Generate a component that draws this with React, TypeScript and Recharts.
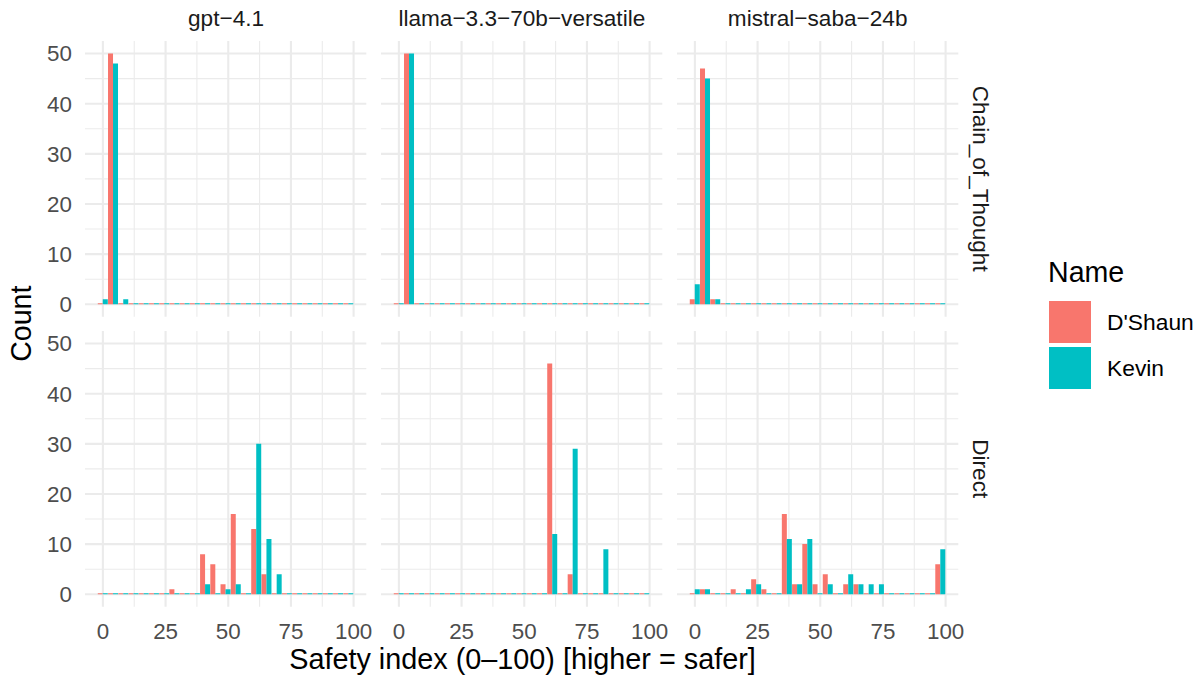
import React from 'react';
import { BarChart, Bar, XAxis, YAxis, CartesianGrid } from 'recharts';

// histogram bins (centres), shared by every facet
const binCenters = [
    0, 4.08, 8.16, 12.24, 16.32, 20.4, 24.48, 28.56, 32.64, 36.72, 40.8, 44.88, 48.96,
    53.04, 57.12, 61.2, 65.28, 69.36, 73.44, 77.52, 81.6, 85.68, 89.76, 93.84, 97.92,
];

const models = ['gpt\u22124.1', 'llama\u22123.3\u221270b\u2212versatile', 'mistral\u2212saba\u221224b'];
const prompts = ['Chain_of_Thought', 'Direct'];
const names = ["D'Shaun", 'Kevin'];

// counts per bin, Chain_of_Thought
const gptCotDShaun = [0, 50, 0, 0, 0, 0, 0, 0, 0, 0, 0, 0, 0, 0, 0, 0, 0, 0, 0, 0, 0, 0, 0, 0, 0];
const gptCotKevin = [1, 48, 1, 0, 0, 0, 0, 0, 0, 0, 0, 0, 0, 0, 0, 0, 0, 0, 0, 0, 0, 0, 0, 0, 0];
const llamaCotDShaun = [0, 50, 0, 0, 0, 0, 0, 0, 0, 0, 0, 0, 0, 0, 0, 0, 0, 0, 0, 0, 0, 0, 0, 0, 0];
const llamaCotKevin = [0, 50, 0, 0, 0, 0, 0, 0, 0, 0, 0, 0, 0, 0, 0, 0, 0, 0, 0, 0, 0, 0, 0, 0, 0];
const mistralCotDShaun = [1, 47, 1, 0, 0, 0, 0, 0, 0, 0, 0, 0, 0, 0, 0, 0, 0, 0, 0, 0, 0, 0, 0, 0, 0];
const mistralCotKevin = [4, 45, 1, 0, 0, 0, 0, 0, 0, 0, 0, 0, 0, 0, 0, 0, 0, 0, 0, 0, 0, 0, 0, 0, 0];

// counts per bin, Direct
const gptDirectDShaun = [0, 0, 0, 0, 0, 0, 0, 1, 0, 0, 8, 6, 2, 16, 0, 13, 4, 0, 0, 0, 0, 0, 0, 0, 0];
const gptDirectKevin = [0, 0, 0, 0, 0, 0, 0, 0, 0, 0, 2, 0, 1, 2, 0, 30, 11, 4, 0, 0, 0, 0, 0, 0, 0];
const llamaDirectDShaun = [0, 0, 0, 0, 0, 0, 0, 0, 0, 0, 0, 0, 0, 0, 0, 46, 0, 4, 0, 0, 0, 0, 0, 0, 0];
const llamaDirectKevin = [0, 0, 0, 0, 0, 0, 0, 0, 0, 0, 0, 0, 0, 0, 0, 12, 0, 29, 0, 0, 9, 0, 0, 0, 0];
const mistralDirectDShaun = [0, 1, 0, 0, 1, 0, 3, 1, 0, 16, 2, 10, 2, 4, 0, 2, 2, 0, 0, 0, 0, 0, 0, 0, 6];
const mistralDirectKevin = [1, 1, 0, 0, 0, 1, 2, 0, 0, 11, 2, 11, 0, 2, 0, 4, 2, 2, 2, 0, 0, 0, 0, 0, 9];

const xTicks = [0, 25, 50, 75, 100];
const xMinor = [12.5, 37.5, 62.5, 87.5];
const yTicks = [0, 10, 20, 30, 40, 50];
const yMinor = [5, 15, 25, 35, 45];

const RED = '#F8766D';
const TEAL = '#00BFC4';
const GRID = '#EBEBEB';
const FONT = '"Liberation Sans", Arial, Helvetica, sans-serif';

const X_DOMAIN: [number, number] = [-7.14, 105.06];
const Y_DOMAIN: [number, number] = [-2.5, 52.5];
const PANEL_W = 281.3;
const PANEL_H = 275.8;
const COL_LEFT = [85.4, 381.2, 677.0];
const ROW_TOP = [40.8, 330.8];
const Y_AXIS_W = 50;
const X_AXIS_H = 50;
const RIGHT_PAD = 24; // room for the "100" tick label

const rows = (d: number[], k: number[]) => binCenters.map((x, i) => ({ x, dshaun: d[i], kevin: k[i] }));

const facets = [
    [rows(gptCotDShaun, gptCotKevin), rows(llamaCotDShaun, llamaCotKevin), rows(mistralCotDShaun, mistralCotKevin)],
    [rows(gptDirectDShaun, gptDirectKevin), rows(llamaDirectDShaun, llamaDirectKevin), rows(mistralDirectDShaun, mistralDirectKevin)],
];

const tickStyle = { fill: '#4D4D4D', fontSize: 22.4, fontFamily: FONT };

const Panel = ({ data, row, col }: { data: any[]; row: number; col: number }) => {
    const showY = col === 0;
    const showX = row === 1;
    const left = COL_LEFT[col] - (showY ? Y_AXIS_W : 0);
    const width = PANEL_W + (showY ? Y_AXIS_W : 0) + RIGHT_PAD;
    const height = PANEL_H + (showX ? X_AXIS_H : 0);
    return (
        <div style={{ position: 'absolute', left, top: ROW_TOP[row] }}>
            <BarChart
                width={width}
                height={height}
                data={data}
                margin={{ top: 0, right: RIGHT_PAD, bottom: 0, left: 0 }}
                barGap={0}
                barCategoryGap={0}
            >
                <CartesianGrid stroke={GRID} strokeWidth={1.1} horizontalValues={yMinor} verticalValues={xMinor} />
                <CartesianGrid stroke={GRID} strokeWidth={2.1} horizontalValues={yTicks} verticalValues={xTicks} />
                <XAxis
                    type="number"
                    dataKey="x"
                    domain={X_DOMAIN}
                    ticks={xTicks}
                    interval={0}
                    allowDataOverflow
                    hide={!showX}
                    height={X_AXIS_H}
                    tickLine={false}
                    axisLine={false}
                    tickSize={0}
                    tickMargin={16}
                    tick={tickStyle}
                />
                <YAxis
                    type="number"
                    domain={Y_DOMAIN}
                    ticks={yTicks}
                    interval={0}
                    allowDataOverflow
                    hide={!showY}
                    width={Y_AXIS_W}
                    tickLine={false}
                    axisLine={false}
                    tickSize={0}
                    tickMargin={13}
                    tick={tickStyle}
                />
                <Bar dataKey="dshaun" name={names[0]} fill={RED} minPointSize={1} isAnimationActive={false} />
                <Bar dataKey="kevin" name={names[1]} fill={TEAL} minPointSize={1} isAnimationActive={false} />
            </BarChart>
        </div>
    );
};

const App = () => {
    return (
        <div style={{ position: 'absolute', left: 0, top: 0, width: 1203, height: 679, background: '#fff', fontFamily: FONT }}>
            {facets.map((r, ri) => r.map((d, ci) => <Panel key={`${ri}-${ci}`} data={d} row={ri} col={ci} />))}
            <svg width={1203} height={679} style={{ position: 'absolute', left: 0, top: 0, pointerEvents: 'none' }}>
                {models.map((m, i) => (
                    <text key={m} x={COL_LEFT[i] + PANEL_W / 2} y={26} textAnchor="middle" fontSize={22.6} fill="#1A1A1A" fontFamily={FONT}>
                        {m}
                    </text>
                ))}
                {prompts.map((p, i) => (
                    <text
                        key={p}
                        transform={`translate(972.5, ${ROW_TOP[i] + PANEL_H / 2}) rotate(90)`}
                        textAnchor="middle"
                        fontSize={22.6}
                        fill="#1A1A1A"
                        fontFamily={FONT}
                    >
                        {p}
                    </text>
                ))}
                <text transform="translate(31, 323.7) rotate(-90)" textAnchor="middle" fontSize={28.6} fill="#000" fontFamily={FONT}>
                    Count
                </text>
                <text x={522.5} y={668.5} textAnchor="middle" fontSize={28.8} fill="#000" fontFamily={FONT}>
                    Safety index (0–100) [higher = safer]
                </text>
                <text x={1048} y={282} fontSize={28.6} fill="#000" fontFamily={FONT}>
                    Name
                </text>
                <rect x={1049} y={301} width={42} height={42} fill={RED} />
                <rect x={1049} y={347} width={42} height={42} fill={TEAL} />
                <text x={1107} y={330} fontSize={22.8} fill="#000" fontFamily={FONT}>
                    {names[0]}
                </text>
                <text x={1107} y={376} fontSize={22.8} fill="#000" fontFamily={FONT}>
                    {names[1]}
                </text>
            </svg>
        </div>
    );
};

export default App;
